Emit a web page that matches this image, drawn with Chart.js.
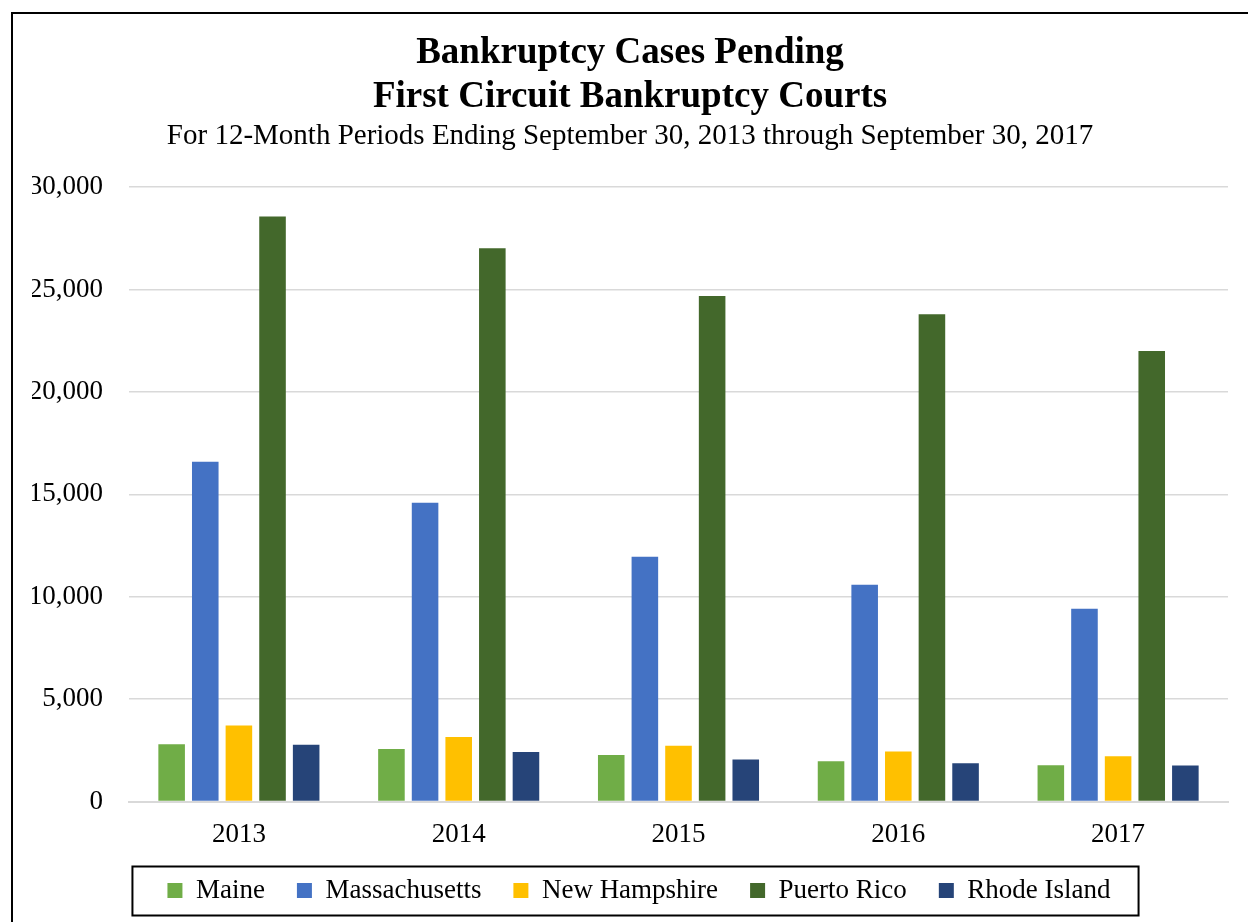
<!DOCTYPE html>
<html>
<head>
<meta charset="utf-8">
<title>Bankruptcy Cases Pending</title>
<script src="https://cdn.jsdelivr.net/npm/chart.js@4.4.1/dist/chart.umd.min.js"></script>
<style>
  html, body { margin: 0; padding: 0; background: #fff; overflow: hidden; }
  #wrap { position: relative; width: 1248px; height: 922px; }
</style>
</head>
<body>
<div id="wrap"><canvas id="casesChart"></canvas></div>
<script>
// Pending cases per district, 12-month periods ending Sept 30
const years = ['2013', '2014', '2015', '2016', '2017'];
const maine = [2800, 2570, 2280, 1970, 1770];
const massachusetts = [16590, 14590, 11950, 10590, 9420];
const newHampshire = [3710, 3160, 2730, 2440, 2210];
const puertoRico = [28570, 27020, 24680, 23800, 22000];
const rhodeIsland = [2770, 2420, 2050, 1870, 1760];
const yTicks = [0, 5000, 10000, 15000, 20000, 25000, 30000];

const serif = "'Liberation Serif', 'Times New Roman', serif";

// Outer frame (left and top edges) and the box around the legend
const framePlugin = {
    id: 'frame',
    afterLayout(chart) {
        // nudge the legend row a little to the right
        chart.legend.left += 9;
        chart.legend.right += 9;
    },
    afterDraw(chart) {
        const ctx = chart.ctx;
        ctx.save();
        ctx.strokeStyle = '#000';
        ctx.lineWidth = 2;
        ctx.beginPath();
        ctx.moveTo(12, 922);
        ctx.lineTo(12, 13);
        ctx.lineTo(1248, 13);
        ctx.stroke();

        const boxes = chart.legend.legendHitBoxes;
        if (boxes && boxes.length) {
            const first = boxes[0];
            const last = boxes[boxes.length - 1];
            const left = first.left - 35;
            const right = last.left + last.width + 28;
            const top = first.top + first.height / 2 - 24;
            ctx.strokeRect(left, top, right - left, 49);
        }
        ctx.restore();
    }
};

const makeSet = (label, data, color) => ({
    label: label,
    data: data,
    backgroundColor: color,
    borderWidth: 0,
    barPercentage: 0.79,
    categoryPercentage: 0.765
});

new Chart(document.getElementById('casesChart'), {
    type: 'bar',
    data: {
        labels: years,
        datasets: [
            makeSet('Maine', maine, '#70AD47'),
            makeSet('Massachusetts', massachusetts, '#4472C4'),
            makeSet('New Hampshire', newHampshire, '#FFC000'),
            makeSet('Puerto Rico', puertoRico, '#43682B'),
            makeSet('Rhode Island', rhodeIsland, '#264478')
        ]
    },
    options: {
        responsive: true,
        maintainAspectRatio: false,
        animation: false,
        layout: { padding: { top: 31, left: 32, right: 20, bottom: 8 } },
        plugins: {
            title: {
                display: true,
                text: ['Bankruptcy Cases Pending', 'First Circuit Bankruptcy Courts'],
                color: '#000',
                font: { family: serif, size: 37, weight: 'bold', lineHeight: 1.2 },
                padding: { top: 0, bottom: 0 }
            },
            subtitle: {
                display: true,
                text: 'For 12-Month Periods Ending September 30, 2013 through September 30, 2017',
                color: '#000',
                font: { family: serif, size: 29, lineHeight: 1.15 },
                padding: { top: 0, bottom: 34 }
            },
            legend: {
                position: 'bottom',
                labels: {
                    color: '#000',
                    boxWidth: 15,
                    boxHeight: 15,
                    padding: 32,
                    font: { family: serif, size: 27 }
                }
            },
            tooltip: { enabled: false }
        },
        scales: {
            x: {
                afterFit(scale) { scale.height -= 23; },
                grid: { display: false, drawTicks: false },
                border: { display: true, color: '#d9d9d9', width: 2 },
                ticks: {
                    color: '#000',
                    padding: 17,
                    font: { family: serif, size: 27 }
                }
            },
            y: {
                min: 0,
                max: 30000,
                afterFit(scale) { scale.width = 129 - 32; },
                afterBuildTicks(scale) { scale.ticks = yTicks.map(v => ({ value: v })); },
                grid: { color: '#d9d9d9', lineWidth: 1.5, drawTicks: false },
                border: { display: false },
                ticks: {
                    color: '#000',
                    padding: 26,
                    font: { family: serif, size: 27 },
                    callback: (v) => Number(v).toLocaleString('en-US')
                }
            }
        }
    },
    plugins: [framePlugin]
});
</script>
</body>
</html>
